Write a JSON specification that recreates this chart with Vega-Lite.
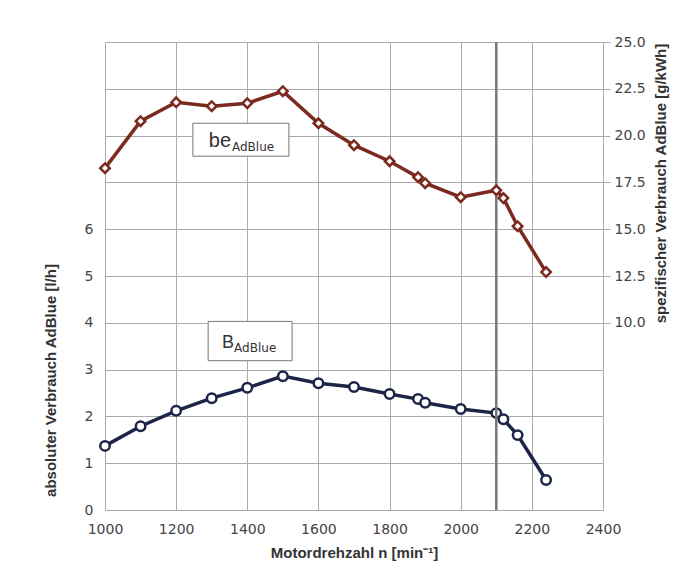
{
  "$schema": "https://vega.github.io/schema/vega-lite/v6.json",
  "width": 498,
  "height": 468,
  "autosize": "none",
  "padding": {"left": 105, "top": 42, "right": 94, "bottom": 69},
  "background": "white",
  "config": {
    "font": "Liberation Sans",
    "view": {"stroke": null},
    "axis": {
      "labelFont": "DejaVu Sans",
      "labelFontSize": 14,
      "labelColor": "#444",
      "titleFont": "Liberation Sans",
      "titleFontSize": 15,
      "titleColor": "#333",
      "titleFontWeight": "bold",
      "domain": false,
      "gridColor": "#aaa",
      "gridWidth": 1,
      "tickColor": "#aaa"
    }
  },
  "data": {
    "values": [
      {"n": 1000, "B": 1.37, "be": 18.26},
      {"n": 1100, "B": 1.79, "be": 20.77},
      {"n": 1200, "B": 2.12, "be": 21.78},
      {"n": 1300, "B": 2.39, "be": 21.57},
      {"n": 1400, "B": 2.61, "be": 21.73},
      {"n": 1500, "B": 2.86, "be": 22.37},
      {"n": 1600, "B": 2.71, "be": 20.66},
      {"n": 1700, "B": 2.63, "be": 19.49},
      {"n": 1800, "B": 2.48, "be": 18.63},
      {"n": 1880, "B": 2.37, "be": 17.78},
      {"n": 1900, "B": 2.29, "be": 17.46},
      {"n": 2000, "B": 2.16, "be": 16.71},
      {"n": 2100, "B": 2.07, "be": 17.08},
      {"n": 2120, "B": 1.94, "be": 16.66},
      {"n": 2160, "B": 1.60, "be": 15.16},
      {"n": 2240, "B": 0.64, "be": 12.71}
    ]
  },
  "layer": [
    {
      "layer": [
        {
          "mark": {"type": "line", "color": "#1c2548", "strokeWidth": 3.5},
          "encoding": {
            "x": {
              "field": "n", "type": "quantitative",
              "scale": {"domain": [1000, 2400], "nice": false, "zero": false},
              "axis": {
                "values": [1000, 1200, 1400, 1600, 1800, 2000, 2200, 2400],
                "format": "d",
                "title": "Motordrehzahl n [min⁻¹]",
                "grid": true, "ticks": false, "labelPadding": 12, "titlePadding": 9,
                "labelFlush": false
              }
            },
            "y": {
              "field": "B", "type": "quantitative",
              "scale": {"domain": [0, 10], "nice": false},
              "axis": {
                "orient": "left",
                "values": [0, 1, 2, 3, 4, 5, 6, 7, 8, 9, 10],
                "labelExpr": "datum.value <= 6 ? datum.label : ''",
                "ticks": false, "grid": true, "labelPadding": 12,
                "title": "absoluter Verbrauch AdBlue [l/h]",
                "titleAngle": 270, "titleX": -55, "titleY": 338,
                "titleAlign": "center", "titleBaseline": "middle"
              }
            }
          }
        },
        {
          "mark": {"type": "point", "shape": "circle", "filled": true, "fill": "white", "stroke": "#1c2548", "strokeWidth": 2.5, "size": 90, "opacity": 1},
          "encoding": {
            "x": {"field": "n", "type": "quantitative"},
            "y": {"field": "B", "type": "quantitative"}
          }
        },
        {
          "data": {"values": [{}]},
          "mark": {"type": "rule", "color": "#777", "strokeWidth": 2.5},
          "encoding": {"x": {"datum": 2100, "type": "quantitative"}}
        },
        {
          "data": {"values": [{}]},
          "mark": {"type": "rect", "fill": "white", "stroke": "#777", "strokeWidth": 1},
          "encoding": {
            "x": {"datum": 1290, "type": "quantitative"},
            "x2": {"datum": 1526},
            "y": {"datum": 4.03, "type": "quantitative"},
            "y2": {"datum": 3.19}
          }
        },
        {
          "data": {"values": [{}]},
          "mark": {"type": "text", "text": "B", "fontSize": 18, "color": "#333", "align": "left", "baseline": "alphabetic"},
          "encoding": {
            "x": {"datum": 1329, "type": "quantitative"},
            "y": {"datum": 3.47, "type": "quantitative"}
          }
        },
        {
          "data": {"values": [{}]},
          "mark": {"type": "text", "text": "AdBlue", "font": "DejaVu Sans", "fontSize": 12, "color": "#333", "align": "left", "baseline": "alphabetic"},
          "encoding": {
            "x": {"datum": 1363, "type": "quantitative"},
            "y": {"datum": 3.385, "type": "quantitative"}
          }
        }
      ]
    },
    {
      "layer": [
        {
          "mark": {"type": "line", "color": "#7b2a20", "strokeWidth": 3.5},
          "encoding": {
            "x": {"field": "n", "type": "quantitative"},
            "y": {
              "field": "be", "type": "quantitative",
              "scale": {"domain": [0, 25], "nice": false},
              "axis": {
                "orient": "right",
                "values": [10, 12.5, 15, 17.5, 20, 22.5, 25],
                "format": ".1f",
                "grid": false, "ticks": true, "tickSize": 7, "labelPadding": 4,
                "title": "spezifischer Verbrauch AdBlue [g/kWh]",
                "titleAngle": 270, "titleX": 57, "titleY": 141,
                "titleAlign": "center", "titleBaseline": "middle"
              }
            }
          }
        },
        {
          "mark": {"type": "point", "shape": "diamond", "filled": true, "fill": "white", "stroke": "#7b2a20", "strokeWidth": 2.5, "size": 90, "opacity": 1},
          "encoding": {
            "x": {"field": "n", "type": "quantitative"},
            "y": {"field": "be", "type": "quantitative"}
          }
        },
        {
          "data": {"values": [{}]},
          "mark": {"type": "rect", "fill": "white", "stroke": "#777", "strokeWidth": 1},
          "encoding": {
            "x": {"datum": 1247, "type": "quantitative"},
            "x2": {"datum": 1517},
            "y": {"datum": 20.66, "type": "quantitative"},
            "y2": {"datum": 18.9}
          }
        },
        {
          "data": {"values": [{}]},
          "mark": {"type": "text", "text": "be", "fontSize": 20, "color": "#333", "align": "left", "baseline": "alphabetic"},
          "encoding": {
            "x": {"datum": 1292, "type": "quantitative"},
            "y": {"datum": 19.38, "type": "quantitative"}
          }
        },
        {
          "data": {"values": [{}]},
          "mark": {"type": "text", "text": "AdBlue", "font": "DejaVu Sans", "fontSize": 12, "color": "#333", "align": "left", "baseline": "alphabetic"},
          "encoding": {
            "x": {"datum": 1357, "type": "quantitative"},
            "y": {"datum": 19.17, "type": "quantitative"}
          }
        }
      ]
    }
  ],
  "resolve": {"scale": {"y": "independent"}}
}
